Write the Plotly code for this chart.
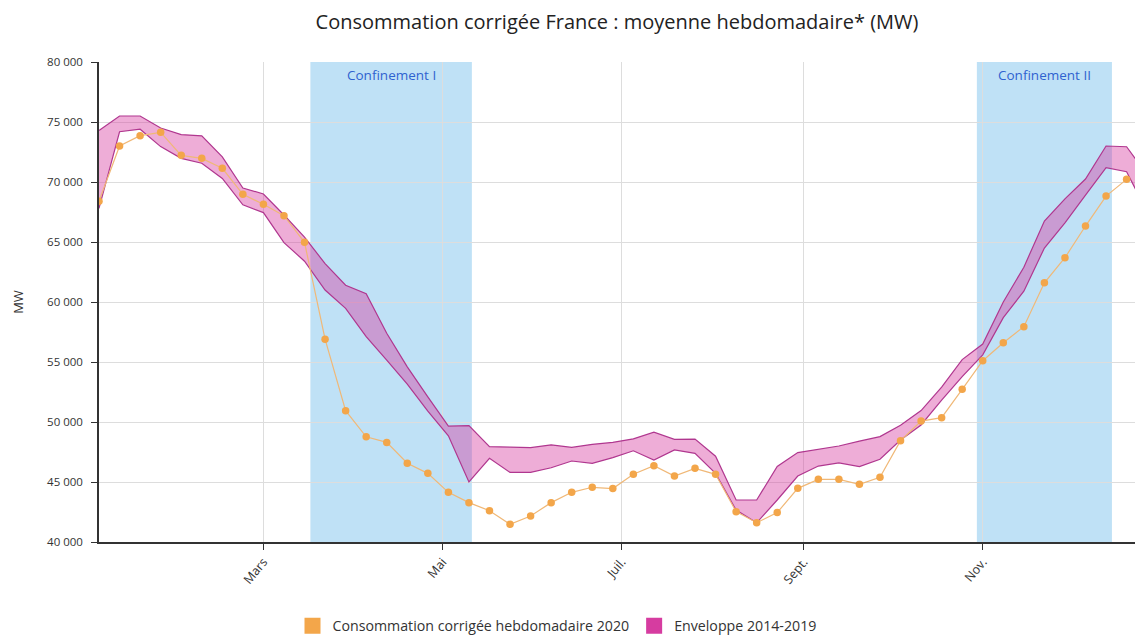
import pandas as pd
import plotly.graph_objects as go

# ---------------- data ----------------
week_dates = pd.date_range("2020-01-05", periods=52, freq="7D")

conso_2020 = [68400, 73000, 73860, 74140, 72220, 71970, 71140, 68970, 68140, 67190,
              64970, 56900, 50940, 48770, 48300, 46560, 45720, 44140, 43280, 42610,
              41470, 42170, 43280, 44140, 44560, 44450, 45640, 46360, 45500, 46140,
              45640, 42530, 41610, 42450, 44470, 45220, 45220, 44810, 45390, 48440,
              50080, 50360, 52720, 55110, 56610, 57940, 61600, 63690, 66330, 68830,
              70220]

env_max = [74300, 75500, 75500, 74500, 73950, 73850, 72100, 69500, 69000, 67250,
           65400, 63200, 61400, 60700, 57400, 54600, 52100, 49650, 49700, 47950,
           47900, 47860, 48100, 47880, 48140, 48300, 48600, 49150, 48550, 48580,
           47150, 43500, 43500, 46300, 47450, 47700, 48000, 48400, 48780, 49720,
           50950, 52900, 55200, 56500, 60000, 62900, 66750, 68600, 70250, 73000,
           72940, 70600]

env_min = [67800, 74190, 74400, 72950, 71970, 71560, 70300, 68100, 67450, 64950,
           63400, 61000, 59470, 57110, 55150, 53150, 50900, 48850, 45000, 46970,
           45800, 45800, 46190, 46750, 46560, 47030, 47600, 46830, 47670, 47390,
           45720, 42670, 41600, 43500, 45500, 46330, 46600, 46280, 46900, 48500,
           49750, 51830, 53780, 55600, 58700, 60900, 64500, 66600, 68900, 71200,
           70860, 67500]

lockdowns = [("2020-03-17", "2020-05-11", "Confinement I"),
             ("2020-10-30", "2020-12-15", "Confinement II")]

month_ticks = ["2020-03-01", "2020-05-01", "2020-07-01", "2020-09-01", "2020-11-01"]
month_labels = ["Mars", "Mai", "Juil.", "Sept.", "Nov."]
y_ticks = [40000, 45000, 50000, 55000, 60000, 65000, 70000, 75000, 80000]

ORANGE = "#f3a64a"
MAGENTA = "#d63ca0"
EDGE = "#b0378f"
FONT = "Open Sans"

# page body has an 8px margin: figure coordinates are offset by 8px
W, H = 1135, 637
PLOT_TOP, PLOT_BOTTOM, PLOT_LEFT = 54, 534, 91

fig = go.Figure()

fig.add_trace(go.Scatter(x=week_dates, y=env_min, mode="lines",
                         line=dict(color=EDGE, width=1.2), showlegend=False,
                         hoverinfo="skip"))
fig.add_trace(go.Scatter(x=week_dates, y=env_max, mode="lines", fill="tonexty",
                         fillcolor="rgba(214,60,160,0.42)",
                         line=dict(color=EDGE, width=1.2), showlegend=False,
                         hoverinfo="skip"))
fig.add_trace(go.Scatter(x=week_dates[:len(conso_2020)], y=conso_2020,
                         mode="lines+markers",
                         line=dict(color="#f0b877", width=1.2),
                         marker=dict(size=7.5, color=ORANGE),
                         showlegend=False))

# legend entries (square swatches)
fig.add_trace(go.Scatter(x=[None], y=[None], mode="markers", legendrank=1,
                         marker=dict(symbol="square", size=18, color=ORANGE),
                         name="Consommation corrigée hebdomadaire 2020"))
fig.add_trace(go.Scatter(x=[None], y=[None], mode="markers", legendrank=2,
                         marker=dict(symbol="square", size=18, color=MAGENTA),
                         name="Enveloppe 2014-2019"))

for start, end, label in lockdowns:
    fig.add_shape(type="rect", xref="x", yref="paper", x0=start, x1=end, y0=0, y1=1,
                  fillcolor="#bfe1f6", line=dict(width=0), layer="below")
    mid = pd.Timestamp(start) + (pd.Timestamp(end) - pd.Timestamp(start)) / 2
    fig.add_annotation(x=mid, y=1 - 13 / 480, xref="x", yref="paper", text=label,
                       showarrow=False, yanchor="middle",
                       font=dict(family=FONT, size=13.5, color="#2f62d0"))

plot_h = PLOT_BOTTOM - PLOT_TOP
fig.update_layout(
    width=W, height=H,
    margin=dict(l=PLOT_LEFT, r=0, t=PLOT_TOP, b=H - PLOT_BOTTOM),
    paper_bgcolor="white", plot_bgcolor="white",
    font=dict(family=FONT, size=12, color="#333333"),
    separators=", ",
    title=dict(text="Consommation corrigée France : moyenne hebdomadaire* (MW)",
               x=609 / W, xanchor="center", y=1 - 14 / H, yanchor="middle",
               xref="container", yref="container",
               font=dict(family=FONT, size=20, color="#222222")),
    legend=dict(orientation="h", x=(549 - PLOT_LEFT) / (W - PLOT_LEFT),
                xanchor="center", y=(PLOT_BOTTOM - 618) / plot_h, yanchor="middle",
                itemwidth=30, traceorder="normal",
                font=dict(family=FONT, size=14.2, color="#333333")),
    showlegend=True,
)

fig.update_xaxes(range=["2020-01-05", "2020-12-25 14:00"],
                 tickmode="array", tickvals=month_ticks, ticktext=month_labels,
                 tickangle=-50, showgrid=True, gridcolor="#dddddd", gridwidth=1,
                 showline=True, linecolor="#333333", linewidth=1.5,
                 ticks="outside", ticklen=6, tickcolor="#333333",
                 ticklabelstandoff=0, automargin=False,
                 zeroline=False, tickfont=dict(size=12.5))
fig.update_yaxes(range=[40000, 80000], tickmode="array", tickvals=y_ticks,
                 tickformat=",d", showgrid=True, gridcolor="#dddddd", gridwidth=1,
                 showline=True, linecolor="#333333", linewidth=1.5,
                 ticks="outside", ticklen=6, tickcolor="#333333",
                 ticklabelstandoff=6, automargin=False,
                 zeroline=False, tickfont=dict(size=11.5),
                 title=dict(text="MW", standoff=21, font=dict(size=13)))

fig.write_html("out.html")
